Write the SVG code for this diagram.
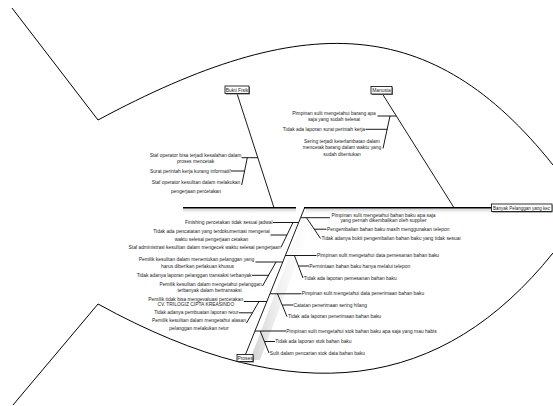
<svg xmlns="http://www.w3.org/2000/svg" width="553" height="406" viewBox="0 0 553 406">
<style>
.ln{stroke:#000;stroke-width:0.9;fill:none}
.sp{stroke:#000;stroke-width:1.4;fill:none}
.fish{stroke:#000;stroke-width:1;fill:none}
.t{font-family:"Liberation Sans",Arial,sans-serif;font-size:4.9px;fill:#222}
.m{text-anchor:middle}
.e{text-anchor:end}
.box{fill:#fff;stroke:#000;stroke-width:0.8}
.bs{fill:#777}
</style>
<defs>
<linearGradient id="gv" x1="0" y1="0" x2="0" y2="1"><stop offset="0" stop-color="#d4d4d4"/><stop offset="1" stop-color="#fff"/></linearGradient>
<linearGradient id="gh" x1="0" y1="0" x2="1" y2="0"><stop offset="0" stop-color="#d0d0d0"/><stop offset="1" stop-color="#fff" stop-opacity="0"/></linearGradient>
</defs>
<rect width="553" height="406" fill="#fff"/>
<g id="fish-outline">
<path class="fish" d="M12,8 L98,120 C303,10 432,13 553,165"/>
<path class="fish" d="M13,405 L98,304 C298,414 443,390 553,253"/>
</g>
<g id="shadows">
<rect x="183" y="208.5" width="113" height="4.5" fill="url(#gv)"/>
<rect x="306" y="208.5" width="185" height="4.5" fill="url(#gv)"/>
<polygon points="307,209 317,209 260,360 250,360" fill="url(#gh)"/>
</g>
<g id="connectors">
<line class="sp" x1="183" y1="207.7" x2="296" y2="207.7"/>
<line class="sp" x1="304" y1="207.7" x2="491.5" y2="207.7"/>
<line class="ln" x1="237" y1="93.5" x2="274" y2="207.7"/>
<line class="ln" x1="382.5" y1="94" x2="454" y2="207.7"/>
<line class="ln" x1="304.5" y1="208" x2="245.5" y2="354.5"/>
<line class="ln" x1="241.5" y1="157.7" x2="257.9" y2="157.7"/>
<line class="ln" x1="247.3" y1="157.7" x2="241.7" y2="185"/>
<line class="ln" x1="231" y1="171" x2="244.6" y2="171"/>
<line class="ln" x1="377.5" y1="116" x2="396.3" y2="116"/>
<line class="ln" x1="390" y1="116" x2="383" y2="148.5"/>
<line class="ln" x1="365.5" y1="129.3" x2="387.2" y2="129.3"/>
<line class="ln" x1="301" y1="217.7" x2="330" y2="217.7"/>
<line class="ln" x1="306.5" y1="217.7" x2="320.5" y2="238.5"/>
<line class="ln" x1="314" y1="229.2" x2="326.5" y2="229.2"/>
<line class="ln" x1="285.3" y1="255.5" x2="316.5" y2="255.5"/>
<line class="ln" x1="294.4" y1="255.5" x2="303" y2="278"/>
<line class="ln" x1="298.5" y1="266" x2="309" y2="266"/>
<line class="ln" x1="270.2" y1="293.8" x2="301.5" y2="293.8"/>
<line class="ln" x1="277.5" y1="293.8" x2="287" y2="316.7"/>
<line class="ln" x1="282.2" y1="305" x2="293.3" y2="305"/>
<line class="ln" x1="255" y1="331" x2="286" y2="331"/>
<line class="ln" x1="260.2" y1="331" x2="269" y2="353"/>
<line class="ln" x1="264.5" y1="341.5" x2="275" y2="341.5"/>
<line class="ln" x1="273" y1="222.5" x2="298.6" y2="222.5"/>
<line class="ln" x1="293" y1="222.5" x2="281" y2="247.3"/>
<line class="ln" x1="270.5" y1="235" x2="287" y2="235"/>
<line class="ln" x1="255.5" y1="262" x2="282.8" y2="262"/>
<line class="ln" x1="276" y1="262" x2="262.5" y2="286"/>
<line class="ln" x1="252" y1="275.3" x2="268.8" y2="275.3"/>
<line class="ln" x1="243.8" y1="301.5" x2="266.8" y2="301.5"/>
<line class="ln" x1="259" y1="301.5" x2="246.5" y2="323"/>
<line class="ln" x1="238.8" y1="312.8" x2="252.4" y2="312.8"/>
</g>
<g id="effect">
<rect class="bs" x="492.5" y="205" width="60" height="7.5"/>
<rect class="box" x="491.5" y="204" width="60.5" height="7.5"/>
<text class="t" x="493" y="209.5" style="font-size:4.5px">Banyak Pelanggan yang kec</text>
</g>
<g id="cat-bukti-fisik">
<rect class="bs" x="226" y="87" width="24" height="7.5"/>
<rect class="box" x="225" y="86" width="24" height="7.5"/>
<text class="t m" x="237" y="91.6">Bukti Fisik</text>
</g>
<g id="cat-manusia">
<rect class="bs" x="372" y="87.5" width="21" height="7.5"/>
<rect class="box" x="371" y="86.5" width="21" height="7.5"/>
<text class="t m" x="381.5" y="92.1">Manusia</text>
</g>
<g id="cat-proses">
<rect class="bs" x="238" y="355.5" width="16" height="7"/>
<rect class="box" x="237" y="354.5" width="16" height="7"/>
<text class="t m" x="245" y="359.8">Proses</text>
</g>
<g id="b1"><text class="t m" x="195.5" y="156.6">Staf operator bisa terjadi kesalahan dalam</text><text class="t m" x="195.5" y="162.6">proses mencetak</text></g>
<g id="b2"><text class="t e" x="230.5" y="172.6">Surat perintah kerja kurang informatif</text></g>
<g id="b3"><text class="t m" x="196" y="184.1">Staf operator kesulitan dalam melakukan</text><text class="t m" x="196" y="192.6">pengerjaan percetakan</text></g>
<g id="m1"><text class="t m" x="334" y="114.9">Pimpinan sulit mengetahui barang apa</text><text class="t m" x="334" y="120.9">saja yang sudah selesai</text></g>
<g id="m2"><text class="t e" x="365" y="130.9">Tidak ada laporan surat perintah kerja</text></g>
<g id="m3"><text class="t m" x="342" y="142.6">Sering terjadi keterlambatan dalam</text><text class="t m" x="342" y="149.3">mencetak barang dalam waktu yang</text><text class="t m" x="342" y="155.6">sudah ditentukan</text></g>
<g id="r1a"><text class="t m" x="383.5" y="216.6">Pimpinan sulit mengetahui bahan baku apa saja</text><text class="t m" x="383.5" y="222.3">yang pernah dikembalikan oleh supplier</text></g>
<g id="r1b"><text class="t" x="327" y="230.8">Pengembalian bahan baku masih menggunakan telepon</text></g>
<g id="r1c"><text class="t" x="321.5" y="239.9">Tidak adanya bukti pengembalian bahan baku yang tidak sesuai</text></g>
<g id="r2a"><text class="t" x="317" y="257.1">Pimpinan sulit mengetahui data pemesanan bahan baku</text></g>
<g id="r2b"><text class="t" x="309.3" y="267.6">Permintaan bahan baku hanya melalui telepon</text></g>
<g id="r2c"><text class="t" x="303.8" y="279.6">Tidak ada laporan pemesanan bahan baku</text></g>
<g id="r3a"><text class="t" x="301.8" y="295.4">Pimpinan sulit mengetahui data penerimaan bahan baku</text></g>
<g id="r3b"><text class="t" x="293.5" y="306.6">Catatan penerimaan sering hilang</text></g>
<g id="r3c"><text class="t" x="288" y="318.3">Tidak ada laporan penerimaan bahan baku</text></g>
<g id="r4a"><text class="t" x="286.3" y="332.6">Pimpinan sulit mengetahui stok bahan baku apa saja yang mau habis</text></g>
<g id="r4b"><text class="t" x="275.3" y="343.1">Tidak ada laporan stok bahan baku</text></g>
<g id="r4c"><text class="t" x="269.7" y="354.6">Sulit dalam pencarian stok data bahan baku</text></g>
<g id="l1a"><text class="t e" x="272.5" y="224.1">Finishing percetakan tidak sesuai jadwal</text></g>
<g id="l1b"><text class="t m" x="211.5" y="232.6">Tidak ada pencatatan yang terdokumentasi mengenai</text><text class="t m" x="211.5" y="240.6">waktu selesai pengerjaan cetakan</text></g>
<g id="l1c"><text class="t e" x="280.5" y="248.9">Staf administrasi kesulitan dalam mengecek waktu selesai pengerjaan</text></g>
<g id="l2a"><text class="t m" x="196.5" y="260.6">Pemilik kesulitan dalam menentukan pelanggan yang</text><text class="t m" x="197.5" y="267.6">harus diberikan perlakuan khusus</text></g>
<g id="l2b"><text class="t e" x="251.5" y="276.9">Tidak adanya laporan pelanggan transaksi terbanyak</text></g>
<g id="l2c"><text class="t m" x="210.5" y="285.9">Pemilik kesulitan dalam mengetahui pelanggan</text><text class="t m" x="209.5" y="291.6">terbanyak dalam bertransaksi</text></g>
<g id="l3a"><text class="t m" x="195.8" y="300.6">Pemilik tidak bisa mengevaluasi percetakan</text><text class="t m" x="195.8" y="306.1">CV. TRILOGIZ CIPTA KREASINDO</text></g>
<g id="l3b"><text class="t e" x="238.3" y="314.4">Tidak adanya pembuatan laporan retur</text></g>
<g id="l3c"><text class="t m" x="199" y="322.3">Pemilik kesulitan dalam mengetahui alasan</text><text class="t m" x="199" y="329.9">pelanggan melakukan retur</text></g>
</svg>
